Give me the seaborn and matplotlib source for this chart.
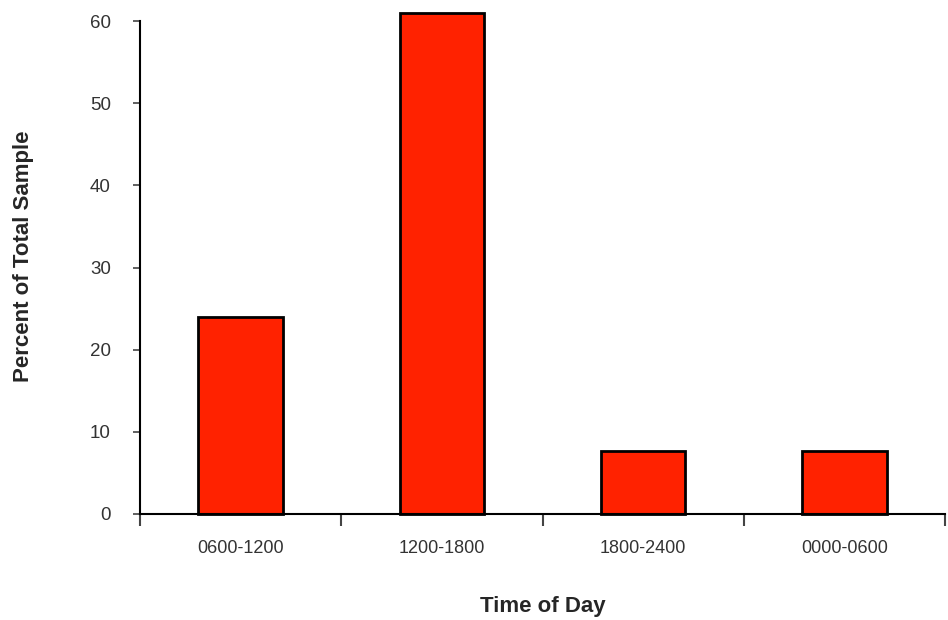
import numpy as np
import pandas as pd
import matplotlib
matplotlib.use("Agg")
import matplotlib.pyplot as plt
import seaborn as sns

# data
time_of_day = ["0600-1200", "1200-1800", "1800-2400", "0000-0600"]
percent = [24.0, 61.0, 7.7, 7.7]

df = pd.DataFrame({"time": time_of_day, "pct": percent})

sns.set_style("white")
plt.rcParams["font.family"] = ["Liberation Sans", "DejaVu Sans"]

fig = plt.figure(figsize=(9.48, 6.2), dpi=100)
ax = fig.add_axes([0.1477, 0.171, 0.8493, 0.795])

sns.barplot(data=df, x="time", y="pct", color="#ff2200", saturation=1,
            width=0.42, edgecolor="black", linewidth=2, ax=ax)
for p in ax.patches:
    p.set_clip_on(False)

ax.set_xlim(-0.5, 3.5)
ax.set_ylim(0, 60)
ax.set_yticks(np.arange(0, 61, 10))

# labels at category centres, ticks at the boundaries
ax.set_xticks(range(4))
ax.set_xticks(np.arange(-0.5, 3.6, 1), minor=True)
ax.tick_params(axis="x", which="major", bottom=False, length=0, pad=19,
               labelsize=13, labelcolor="#333333")
ax.tick_params(axis="x", which="minor", bottom=True, length=8.5, width=1.5,
               direction="out", color="#444444")
ax.tick_params(axis="y", length=5, width=1.2, direction="out", pad=16, labelsize=13.5,
               labelcolor="#333333", left=True, color="#444444")

sns.despine(ax=ax, top=True, right=True)
for s in ["left", "bottom"]:
    ax.spines[s].set_linewidth(1.5)
    ax.spines[s].set_color("black")

ax.set_xlabel("Time of Day", fontsize=16, fontweight="bold", labelpad=28)
ax.set_ylabel("Percent of Total Sample", fontsize=16, fontweight="bold", labelpad=40)
ax.yaxis.label.set_y(0.523)

fig.savefig("out.png", dpi=100, facecolor="white")
